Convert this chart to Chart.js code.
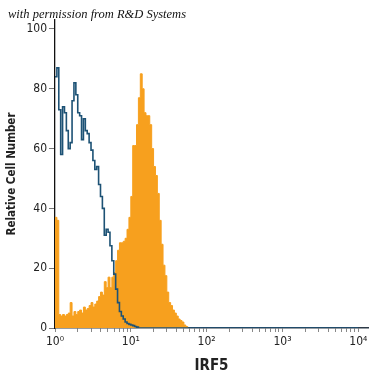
<!DOCTYPE html>
<html>
<head>
<meta charset="utf-8">
<script src="https://cdn.jsdelivr.net/npm/chart.js@4"></script>
<style>
  html, body { margin: 0; padding: 0; background: #fff; }
  #wrap { position: relative; width: 375px; height: 375px; }
  #credit {
    position: absolute; left: 8px; top: 7px;
    font: italic 12.5px "Liberation Serif", "DejaVu Serif", serif;
    color: #111;
  }
</style>
</head>
<body>
<div id="wrap">
  <canvas id="histogram" width="375" height="375"></canvas>
  <div id="credit">with permission from R&amp;D Systems</div>
</div>
<script>
// channel width in decades of the log axis
const binStep = 0.025;

// stained sample (orange, filled)
const irf5Counts = [
  37, 36, 4.5, 4, 4.5, 4, 4.5, 5, 8.5, 4,
  5.5, 4.5, 5.5, 6, 5, 7, 6, 6.5, 7.5, 8.5,
  7, 8, 9, 10.5, 12, 11, 15.5, 13.5, 17, 13.5,
  17, 18.5, 22.5, 26, 28.5, 28.5, 29, 30, 33, 37,
  44, 61, 61, 68, 77, 85, 80, 72, 71, 71,
  68, 60, 54, 51, 45, 36, 28, 21, 17.5, 12,
  8.5, 7.5, 6, 5, 4, 3, 2.5, 2, 1, 0.5,
  0
];

// isotype control (blue line)
const controlCounts = [
  84, 87, 73, 58, 74, 72, 66, 60, 62, 76,
  82, 78, 72, 71, 63, 70, 66, 65, 62, 59.5,
  56, 53, 54, 48, 44, 40, 31, 33, 32, 27.5,
  22.5, 18, 13, 8.5, 5.5, 4, 3, 2, 1.5, 1.2,
  1, 0.8, 0.5, 0.3, 0, 0, 0, 0, 0, 0,
  0, 0, 0, 0, 0, 0, 0, 0, 0, 0,
  0, 0, 0, 0, 0, 0, 0, 0, 0, 0,
  0
];

const xTickLabels = ["10\u2070", "10\u00b9", "10\u00b2", "10\u00b3", "10\u2074"];
const yTicks = [0, 20, 40, 60, 80, 100];

const axisFont = "'Liberation Sans Narrow', 'DejaVu Sans Condensed', 'Roboto', sans-serif";

function toPoints(counts) {
  return counts.map((count, i) => ({ x: Math.pow(10, i * binStep), y: count }));
}

function renderHistogram() {
  const ctx = document.getElementById("histogram").getContext("2d");

  const controlPoints = toPoints(controlCounts);
  controlPoints.push({ x: 10000, y: 0 });

  new Chart(ctx, {
    type: "line",
    data: {
      datasets: [
        {
          label: "Control",
          data: controlPoints,
          borderColor: "#1d5275",
          borderWidth: 1.6,
          pointRadius: 0,
          stepped: true,
          fill: false,
          order: 0,
        },
        {
          label: "IRF5",
          data: toPoints(irf5Counts),
          borderColor: "#f7a01e",
          backgroundColor: "#f7a01e",
          borderWidth: 1,
          pointRadius: 0,
          stepped: true,
          fill: "origin",
          order: 1,
        },
      ],
    },
    options: {
      responsive: false,
      animation: false,
      layout: { padding: { top: 20, right: 7, left: 0, bottom: 0 } },
      plugins: {
        legend: { display: false },
        tooltip: { enabled: false },
      },
      scales: {
        x: {
          type: "logarithmic",
          min: 1,
          max: 13430,
          afterBuildTicks: (axis) => {
            const ticks = [];
            for (let d = 0; d < 4; d++) {
              for (let m = 1; m <= 9; m++) {
                ticks.push({ value: m * Math.pow(10, d) });
              }
            }
            ticks.push({ value: 10000 });
            axis.ticks = ticks;
          },
          afterFit: (scale) => {
            scale.height = 47;
          },
          grid: {
            drawOnChartArea: false,
            tickLength: 4,
            tickColor: "#888",
          },
          border: { color: "#2d3a48", width: 1.5 },
          ticks: {
            autoSkip: false,
            maxRotation: 0,
            padding: 3,
            color: "#222",
            font: { family: axisFont, size: 12 },
            callback: (value) => {
              const exp = Math.log10(value);
              if (Math.abs(exp - Math.round(exp)) < 1e-9) {
                return xTickLabels[Math.round(exp)];
              }
              return "";
            },
          },
          title: {
            display: true,
            text: "IRF5",
            color: "#222",
            padding: { top: 1, bottom: 0 },
            font: { family: axisFont, size: 15, weight: "bold" },
          },
        },
        y: {
          min: 0,
          max: 103,
          afterBuildTicks: (axis) => {
            axis.ticks = yTicks.map((v) => ({ value: v }));
          },
          afterFit: (scale) => {
            scale.width = 55;
          },
          grid: {
            drawOnChartArea: false,
            tickLength: 6,
            tickColor: "#777",
          },
          border: { color: "#111", width: 1.3 },
          ticks: {
            padding: 2,
            color: "#222",
            font: { family: axisFont, size: 12 },
          },
          title: {
            display: true,
            text: "Relative Cell Number",
            color: "#222",
            padding: { top: 5, bottom: 0 },
            font: { family: axisFont, size: 11.5, weight: "bold" },
          },
        },
      },
    },
  });
}

renderHistogram();
</script>
</body>
</html>
